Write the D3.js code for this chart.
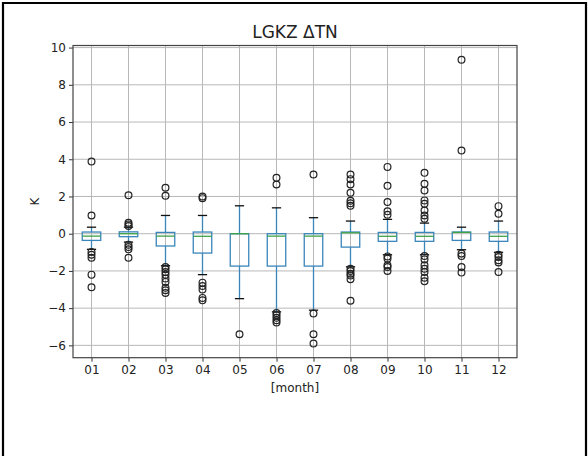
<!DOCTYPE html>
<html>
<head>
<meta charset="utf-8">
<script src="https://cdn.jsdelivr.net/npm/d3@7"></script>
<style>
  html, body { margin: 0; padding: 0; background: #fff; }
  svg { display: block; }
  text { font-family: "DejaVu Sans", sans-serif; fill: #222; }
</style>
</head>
<body>
<svg id="chart" width="588" height="456"></svg>
<script>
// Monthly distribution of ΔTN (K) at LGKZ
const months = ["01", "02", "03", "04", "05", "06", "07", "08", "09", "10", "11", "12"];
const q1 = [-0.36, -0.16, -0.66, -1.04, -1.74, -1.74, -1.74, -0.72, -0.41, -0.41, -0.36, -0.41];
const medians = [-0.13, 0.0, -0.13, -0.14, 0.0, -0.13, -0.13, 0.05, -0.14, -0.14, 0.07, -0.14];
const q3 = [0.09, 0.1, 0.07, 0.09, 0.0, 0.0, 0.0, 0.09, 0.07, 0.07, 0.09, 0.09];
const whiskerLow = [-0.84, -0.45, -1.72, -2.2, -3.49, -4.2, -4.11, -1.78, -1.13, -1.13, -0.86, -1.0];
const whiskerHigh = [0.35, 0.35, 0.98, 0.98, 1.5, 1.39, 0.86, 0.68, 0.77, 0.57, 0.35, 0.68];
const outliers = [
  [3.88, 0.98, -0.98, -1.13, -1.29, -2.2, -2.88],
  [2.07, 0.59, 0.5, 0.41, -0.59, -0.72, -0.84, -1.29],
  [2.47, 2.04, -1.79, -1.91, -2.06, -2.2, -2.41, -2.59, -2.91, -3.04, -3.18],
  [2.0, 1.91, -2.63, -2.81, -3.0, -3.45, -3.58],
  [-5.4],
  [3.0, 2.64, -4.26, -4.38, -4.52, -4.65, -4.77],
  [3.18, -4.29, -5.4, -5.9],
  [3.18, 2.93, 2.64, 2.2, 1.77, 1.64, 1.5, -1.88, -2.0, -2.15, -2.24, -2.45, -3.6],
  [3.59, 2.57, 1.7, 1.2, 1.02, -1.22, -1.34, -1.7, -1.79, -2.0],
  [3.27, 2.68, 2.32, 1.79, 1.61, 1.25, 0.98, 0.8, -1.2, -1.38, -1.7, -1.88, -2.06, -2.36, -2.56],
  [9.35, 4.47, -1.07, -1.2, -1.79, -2.09],
  [1.48, 1.07, -1.13, -1.25, -1.43, -1.55, -2.06]
];
const yTicks = [-6, -4, -2, 0, 2, 4, 6, 8, 10];

const svg = d3.select("#chart");
const W = 588, H = 456;
const plot = { left: 73, right: 517, top: 45.5, bottom: 357.7 };

// Frame around the figure
svg.append("rect").attr("width", W).attr("height", H).attr("fill", "#fff");
svg.append("path")
  .attr("d", `M3,${H} L3,3 L586,3 L586,${H}`)
  .attr("fill", "none").attr("stroke", "#000").attr("stroke-width", 2.2);

// Scales: categorical positions 1..12, value axis padded by 5% of the data span
const x = d3.scaleLinear().domain([0.5, months.length + 0.5]).range([plot.left, plot.right]);
const allVals = outliers.flat().concat(whiskerLow, whiskerHigh);
const lo = d3.min(allVals), hi = d3.max(allVals), pad = (hi - lo) * 0.05;
const y = d3.scaleLinear().domain([lo - pad, hi + pad]).range([plot.bottom, plot.top]);

const g = svg.append("g");

// Grid
g.append("g").selectAll("line").data(yTicks).join("line")
  .attr("x1", plot.left).attr("x2", plot.right)
  .attr("y1", d => y(d)).attr("y2", d => y(d))
  .attr("stroke", "#b8b8b8").attr("stroke-width", 1);
g.append("g").selectAll("line").data(months).join("line")
  .attr("x1", (d, i) => x(i + 1)).attr("x2", (d, i) => x(i + 1))
  .attr("y1", plot.top).attr("y2", plot.bottom)
  .attr("stroke", "#b8b8b8").attr("stroke-width", 1);

// Boxes
const boxW = x(1.25) - x(1);     // half of box width (0.5 data units total)
const capW = x(1.125) - x(1);    // half of cap width
const blue = "#3a86bb", green = "#3ea24a";
const lw = 1.3;
const boxes = g.append("g").selectAll("g").data(months).join("g");

boxes.append("line") // lower whisker
  .attr("x1", (d, i) => x(i + 1)).attr("x2", (d, i) => x(i + 1))
  .attr("y1", (d, i) => y(q1[i])).attr("y2", (d, i) => y(whiskerLow[i]))
  .attr("stroke", blue).attr("stroke-width", lw);
boxes.append("line") // upper whisker
  .attr("x1", (d, i) => x(i + 1)).attr("x2", (d, i) => x(i + 1))
  .attr("y1", (d, i) => y(q3[i])).attr("y2", (d, i) => y(whiskerHigh[i]))
  .attr("stroke", blue).attr("stroke-width", lw);
boxes.append("line") // lower cap
  .attr("x1", (d, i) => x(i + 1) - capW).attr("x2", (d, i) => x(i + 1) + capW)
  .attr("y1", (d, i) => y(whiskerLow[i])).attr("y2", (d, i) => y(whiskerLow[i]))
  .attr("stroke", "#111").attr("stroke-width", lw);
boxes.append("line") // upper cap
  .attr("x1", (d, i) => x(i + 1) - capW).attr("x2", (d, i) => x(i + 1) + capW)
  .attr("y1", (d, i) => y(whiskerHigh[i])).attr("y2", (d, i) => y(whiskerHigh[i]))
  .attr("stroke", "#111").attr("stroke-width", lw);
boxes.append("rect")
  .attr("x", (d, i) => x(i + 1) - boxW).attr("width", 2 * boxW)
  .attr("y", (d, i) => y(q3[i])).attr("height", (d, i) => y(q1[i]) - y(q3[i]))
  .attr("fill", "none").attr("stroke", blue).attr("stroke-width", lw);
boxes.append("line") // median
  .attr("x1", (d, i) => x(i + 1) - boxW).attr("x2", (d, i) => x(i + 1) + boxW)
  .attr("y1", (d, i) => y(medians[i])).attr("y2", (d, i) => y(medians[i]))
  .attr("stroke", green).attr("stroke-width", lw);

// Fliers
boxes.each(function (d, i) {
  d3.select(this).selectAll("circle").data(outliers[i]).join("circle")
    .attr("cx", x(i + 1)).attr("cy", v => y(v)).attr("r", 3.4)
    .attr("fill", "none").attr("stroke", "#222").attr("stroke-width", 1.2);
});

// Axes
const yAxis = d3.axisLeft(y).tickValues(yTicks).tickSize(4).tickPadding(3).tickFormat(d => d < 0 ? "\u2212" + Math.abs(d) : d);
const xAxis = d3.axisBottom(x).tickValues(d3.range(1, months.length + 1)).tickSize(4).tickPadding(4).tickFormat(d => months[d - 1]);

const ya = svg.append("g").attr("transform", `translate(${plot.left},0)`).call(yAxis);
const xa = svg.append("g").attr("transform", `translate(0,${plot.bottom})`).call(xAxis);
[ya, xa].forEach(a => {
  a.select(".domain").remove();
  a.selectAll("line").attr("stroke", "#333").attr("stroke-width", 1);
  a.selectAll("text").attr("font-size", 12).attr("fill", "#333")
    .style("font-family", "'DejaVu Sans', sans-serif");
});

// Spines
svg.append("rect")
  .attr("x", plot.left).attr("y", plot.top)
  .attr("width", plot.right - plot.left).attr("height", plot.bottom - plot.top)
  .attr("fill", "none").attr("stroke", "#444").attr("stroke-width", 1.2);

// Titles
svg.append("text").attr("x", (plot.left + plot.right) / 2).attr("y", 38)
  .attr("text-anchor", "middle").attr("font-size", 17).attr("fill", "#222").text("LGKZ \u0394TN");
svg.append("text").attr("x", (plot.left + plot.right) / 2).attr("y", 392)
  .attr("text-anchor", "middle").attr("font-size", 12).attr("fill", "#333").text("[month]");
svg.append("text")
  .attr("transform", `translate(39,${(plot.top + plot.bottom) / 2}) rotate(-90)`)
  .attr("text-anchor", "middle").attr("font-size", 12).attr("fill", "#333").text("K");
</script>
</body>
</html>
